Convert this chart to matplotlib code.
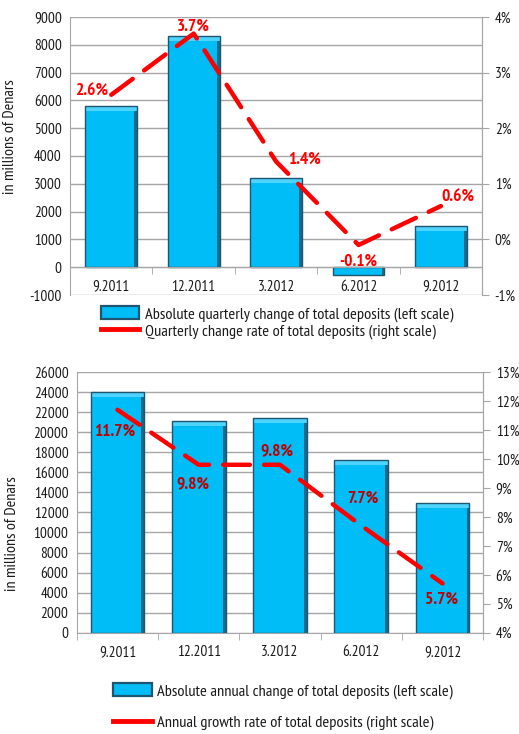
import matplotlib
matplotlib.use("Agg")
import matplotlib.pyplot as plt
from matplotlib.patches import Rectangle
from matplotlib.lines import Line2D
import numpy as np

# ---- data ----
categories = ["9.2011", "12.2011", "3.2012", "6.2012", "9.2012"]
quarterly_abs = [5780, 8300, 3200, -280, 1480]
quarterly_rate = [2.6, 3.7, 1.4, -0.1, 0.6]
annual_abs = [24000, 21100, 21400, 17200, 12900]
annual_rate = [11.7, 9.8, 9.8, 7.7, 5.7]

q_left_ticks = list(range(-1000, 9001, 1000))
q_right_ticks = [-1, 0, 1, 2, 3, 4]
a_left_ticks = list(range(0, 26001, 2000))
a_right_ticks = list(range(4, 14))

FONT = ["PT Sans Narrow", "DejaVu Sans"]
plt.rcParams['font.family'] = FONT
plt.rcParams['font.size'] = 10.5

BAR = "#00BDF8"
TOPBAND = "#4FD4FF"
SHADOW = "#1A6A8C"
EDGE = "#1E5570"
GRID = "#A6A6A6"
RED = "#FF0000"
DARKRED = "#C00000"
TXT = "#1A1A1A"

fig = plt.figure(figsize=(5.19, 7.34), dpi=100)


def style_axes(ax, ax2, lticks, rticks, ylim, rlim, zero_spine):
    x = np.arange(len(categories))
    ax.set_xlim(-0.5, len(categories) - 0.5)
    ax.set_ylim(*ylim)
    ax.set_yticks(lticks)
    ax.set_yticklabels([str(t) for t in lticks])
    ax.yaxis.grid(True, color=GRID, lw=1)
    ax.set_axisbelow(True)
    ax.set_xticks(x)
    ax.set_xticklabels(categories)
    ax.set_xticks(np.arange(len(categories) + 1) - 0.5, minor=True)
    ax.tick_params(axis='x', which='major', length=0, pad=9, labelsize=11, labelcolor=TXT)
    ax.tick_params(axis='x', which='minor', length=5, color=GRID, direction='out')
    ax.tick_params(axis='y', length=0, pad=6, labelsize=11, labelcolor=TXT)
    for s in ['left', 'right', 'top', 'bottom']:
        ax.spines[s].set_color(GRID)
    ax.spines['top'].set_visible(False)
    if zero_spine:
        ax.spines['bottom'].set_position(('data', 0))
    ax2.set_ylim(*rlim)
    ax2.set_yticks(rticks)
    ax2.set_yticklabels([f"{t}%" for t in rticks])
    ax2.tick_params(axis='y', length=5, color=GRID, pad=4, labelsize=11, labelcolor=TXT)
    for s in ['left', 'right', 'top', 'bottom']:
        ax2.spines[s].set_visible(False)
    ax2.spines['right'].set_visible(True)
    ax2.spines['right'].set_color(GRID)


def draw_bars(ax, vals, width, band, shadow_w):
    x = np.arange(len(vals))
    v = np.array(vals, dtype=float)
    ax.bar(x, v, width=width, color=BAR, linewidth=0, zorder=2)
    # right-side shadow (bevel)
    ax.bar(x + width / 2 - shadow_w / 2, v, width=shadow_w, color=SHADOW, linewidth=0, zorder=2.1)
    # lighter top band for positive bars
    pos = v > 0
    ax.bar(x[pos], np.full(pos.sum(), band), bottom=v[pos] - band, width=width,
           color=TOPBAND, linewidth=0, zorder=2.2)
    ax.bar(x, v, width=width, facecolor='none', edgecolor=EDGE, linewidth=1.0, zorder=2.3)


x = np.arange(len(categories))

# ---------- top chart ----------
ax1 = fig.add_axes([0.135, 0.598, 0.794, 0.379])
ax1b = ax1.twinx()
draw_bars(ax1, quarterly_abs, 0.63, 170, 0.035)
style_axes(ax1, ax1b, q_left_ticks, q_right_ticks, (-1000, 9000), (-1, 4), True)
ax1.set_ylabel("in millions of Denars", fontsize=11.5, color=TXT)
ax1.yaxis.set_label_coords(-0.128, 0.568)
ax1b.plot(x, quarterly_rate, color=RED, lw=3.2, dashes=(6.0, 3.2),
          solid_capstyle='round', dash_capstyle='round', zorder=3)
q_offsets = [(-2, 2, 'right'), (0, 5, 'center'), (9, 1, 'left'), (0, -12, 'center'), (12, 6, 'center')]
for xi, v, (dx, dy, ha) in zip(x, quarterly_rate, q_offsets):
    ax1b.annotate(f"{v}%", (xi, v), xytext=(dx, dy), textcoords='offset points',
                  ha=ha, va='center', color=RED, fontweight='bold', fontsize=12.5)

h_bar = Rectangle((0, 0), 1, 1, facecolor=BAR, edgecolor=EDGE, linewidth=1.6)
h_line = Line2D([0], [0], color=RED, lw=3.5)
fig.legend([h_bar, h_line],
           ["Absolute quarterly change of total deposits (left scale)",
            "Quarterly change rate of total deposits (right scale)"],
           loc='upper left', bbox_to_anchor=(0.195, 0.583), frameon=False,
           fontsize=11.8, handlelength=2.3, handleheight=0.85, handletextpad=0.35,
           labelspacing=0.1, borderaxespad=0, borderpad=0, labelcolor=TXT)

# ---------- bottom chart ----------
ax2 = fig.add_axes([0.148, 0.138, 0.783, 0.355])
ax2b = ax2.twinx()
draw_bars(ax2, annual_abs, 0.66, 480, 0.035)
style_axes(ax2, ax2b, a_left_ticks, a_right_ticks, (0, 26000), (4, 13), False)
ax2.set_ylabel("in millions of Denars", fontsize=11.5, color=TXT)
ax2.yaxis.set_label_coords(-0.142, 0.379)
ax2b.plot(x, annual_rate, color=RED, lw=3.2, dashes=(6.0, 3.2),
          solid_capstyle='round', dash_capstyle='round', zorder=3)
a_offsets = [(-2, -16, 'center'), (-4, -14, 'center'), (-2, 10, 'center'), (1, 19, 'center'), (-1, -12, 'center')]
for xi, v, (dx, dy, ha) in zip(x, annual_rate, a_offsets):
    ax2b.annotate(f"{v}%", (xi, v), xytext=(dx, dy), textcoords='offset points',
                  ha=ha, va='center', color=DARKRED, fontweight='bold', fontsize=12.5)

fig.legend([h_bar, h_line],
           ["Absolute annual change of total deposits (left scale)",
            "Annual growth rate of total deposits (right scale)"],
           loc='upper left', bbox_to_anchor=(0.218, 0.069), frameon=False,
           fontsize=11.8, handlelength=2.4, handleheight=0.85, handletextpad=0.3,
           labelspacing=0.95, borderaxespad=0, borderpad=0, labelcolor=TXT)

fig.savefig("out.png", dpi=100)
